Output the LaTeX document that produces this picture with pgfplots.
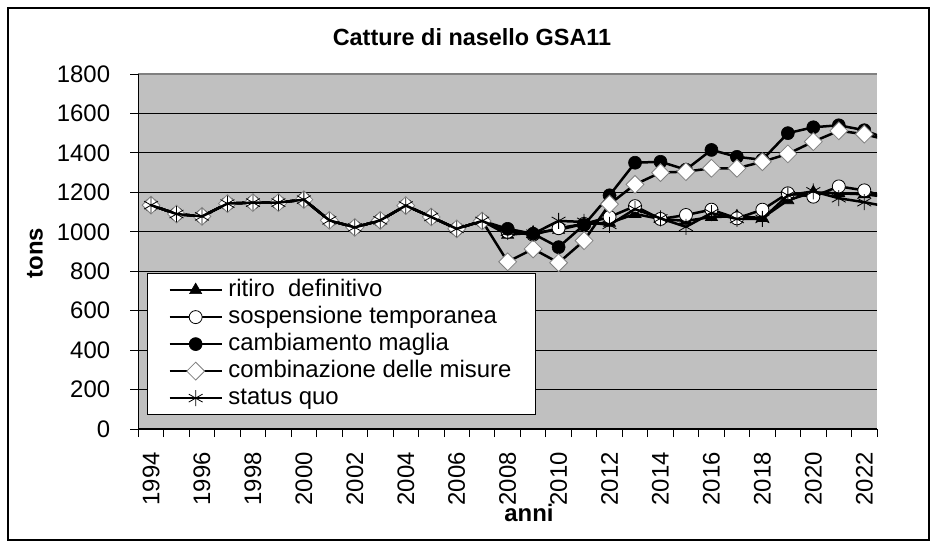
\documentclass[border=0pt]{standalone}
\usepackage{fontspec}
\setmainfont{Liberation Sans}
\usepackage{pgfplots}
\pgfplotsset{compat=1.18}
\usepackage{pgfplotstable}
\definecolor{bggray}{HTML}{C0C0C0}
\definecolor{edgegray}{HTML}{808080}

\pgfplotstableread{
year rit sos cam com sq
1994 1135 1135 1135 1135 1135
1995 1090 1090 1090 1090 1090
1996 1078 1078 1078 1078 1078
1997 1143 1143 1143 1143 1143
1998 1148 1148 1148 1148 1148
1999 1148 1148 1148 1148 1148
2000 1163 1163 1163 1163 1163
2001 1058 1058 1058 1058 1058
2002 1022 1022 1022 1022 1022
2003 1058 1058 1058 1058 1058
2004 1133 1133 1133 1133 1133
2005 1075 1075 1075 1075 1075
2006 1015 1015 1015 1015 1015
2007 1055 1055 1055 1055 1055
2008 985 1000 1015 848 1000
2009 995 985 990 913 990
2010 1010 1018 922 843 1055
2011 1040 1040 1035 955 1050
2012 1045 1075 1185 1140 1035
2013 1090 1130 1350 1240 1115
2014 1065 1065 1355 1300 1068
2015 1055 1085 1315 1305 1025
2016 1075 1112 1415 1322 1095
2017 1078 1068 1380 1322 1065
2018 1070 1112 1365 1355 1065
2019 1160 1195 1500 1395 1185
2020 1200 1178 1530 1457 1205
2021 1195 1230 1540 1512 1170
2022 1190 1210 1515 1495 1150
2023 1175 1170 1465 1462 1125
}\data

\begin{document}
\begin{tikzpicture}
\fill[white] (0bp,0bp) rectangle (937bp,548bp);
\draw[black, line width=2bp] (8bp,8bp) rectangle (929bp,540bp);
\node[font=\fontsize{23.5}{27}\selectfont\bfseries] at (472bp,511bp) {Catture di nasello GSA11};
\node[font=\fontsize{24}{27}\selectfont\bfseries] at (529bp,35bp) {anni};
\node[font=\fontsize{24}{27}\selectfont\bfseries, rotate=90] at (35bp,295bp) {tons};
\begin{axis}[
  at={(138.3bp,119bp)}, anchor=south west,
  scale only axis, width=738.7bp, height=355bp,
  xmin=1993.5, xmax=2022.5, ymin=0, ymax=1800,
  clip mode=individual, clip marker paths=true,
  axis background/.style={fill=bggray},
  axis line style={draw=none},
  font=\fontsize{24}{27}\selectfont,
  /pgf/number format/assume math mode=true,
  /pgf/number format/set thousands separator={},
  tick align=outside,
  xtick pos=bottom, ytick pos=left,
  major tick length=8bp,
  tick style={black, line width=0.8bp},
  ytick={0,200,...,1800},
  ymajorgrids, grid style={black, line width=1.2bp},
  yticklabel style={anchor=east, inner sep=0pt, xshift=-20bp},
  xtick={1993.5,1994.5,...,2022.5}, xticklabels={},
  extra x ticks={1994,1996,...,2022},
  extra x tick labels={1994,1996,1998,2000,2002,2004,2006,2008,2010,2012,2014,2016,2018,2020,2022},
  extra x tick style={major tick length=0pt, xticklabel style={yshift=-23bp, rotate=90, anchor=east, inner sep=0pt}},
  legend style={at={(0.0118,0.0394)}, anchor=south west, draw=black, line width=0.8bp, fill=white,
    font=\fontsize{24}{27}\selectfont, cells={anchor=west},
    nodes={text height=17bp, text depth=5bp, inner sep=2.5bp}, inner xsep=21bp, inner ysep=3bp,
    /tikz/every odd column/.append style={column sep=3bp}},
  legend image code/.code={\draw[mark repeat=2,mark phase=2] plot coordinates {(0bp,0bp) (26bp,0bp) (52bp,0bp)};},
  every axis plot/.append style={black, line width=2.5bp},
]
\addplot[mark=triangle*, mark size=7bp, mark options={solid, fill=black, line width=0.6bp}] table[x=year,y=rit] {\data};
\addlegendentry{ritiro\ \ definitivo}
\addplot[mark=*, mark size=6.5bp, mark options={solid, fill=white, draw=black, line width=0.8bp}] table[x=year,y=sos] {\data};
\addlegendentry{sospensione temporanea}
\addplot[mark=*, mark size=6.5bp, mark options={solid, fill=black, line width=0.6bp}] table[x=year,y=cam] {\data};
\addlegendentry{cambiamento maglia}
\addplot[mark=square*, mark size=6.3bp, mark options={solid, rotate=45, fill=white, draw=edgegray, line width=0.8bp}] table[x=year,y=com] {\data};
\addlegendentry{combinazione delle misure}
\addplot[mark=asterisk, mark size=8bp, mark options={solid, draw=black, line width=0.8bp}] table[x=year,y=sq] {\data};
\addlegendentry{status quo}
\draw[edgegray, line width=1.2bp] (rel axis cs:0,1) -- (rel axis cs:1,1);
\draw[black, line width=1.2bp] (rel axis cs:0,1) -- (rel axis cs:0,0) -- (rel axis cs:1,0);
\end{axis}
\end{tikzpicture}
\end{document}
